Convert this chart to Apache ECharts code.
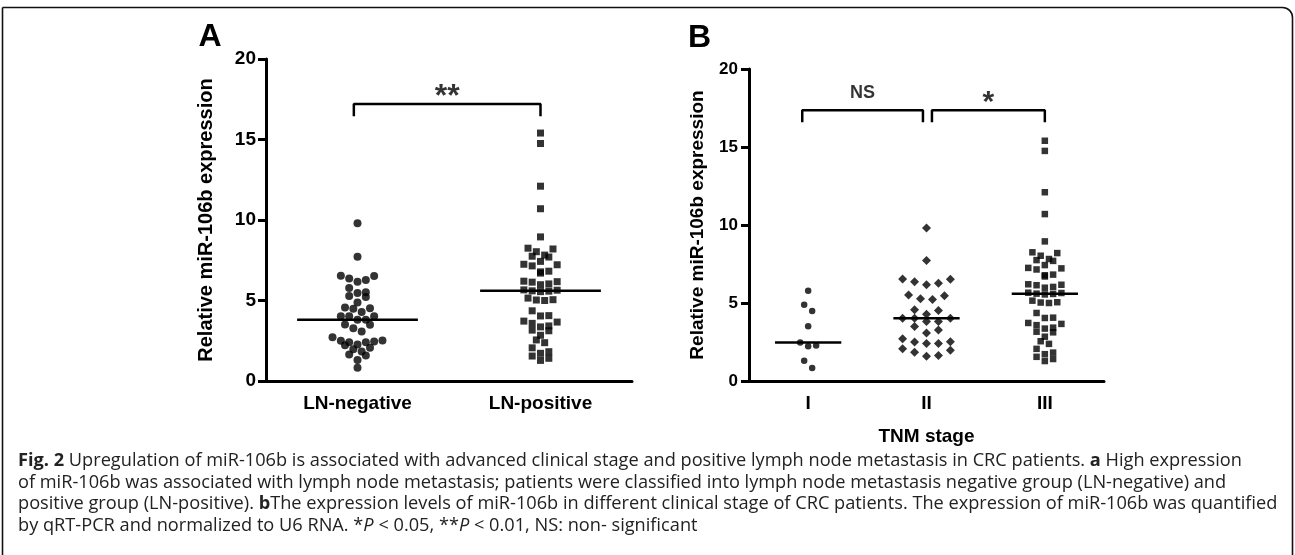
<!DOCTYPE html>
<html><head><meta charset="utf-8">
<script src="https://cdn.jsdelivr.net/npm/echarts@6/dist/echarts.min.js"></script>
<style>html,body{margin:0;padding:0;background:#fff}#c{width:1295px;height:555px}</style>
</head><body><div id="c"></div>
<script>
// ---------------- data ----------------
const categoriesA = ['LN-negative', 'LN-positive'];
const categoriesB = ['I', 'II', 'III'];
const yTicks = [0, 5, 10, 15, 20];
const stageI = [5.78, 4.88, 4.49, 3.51, 2.46, 2.27, 2.22, 1.30, 0.83];
const stageII = [9.80, 7.72, 6.54, 6.52, 6.36, 6.27, 6.17, 5.52, 5.46, 5.28, 5.22,
  4.56, 4.52, 4.28, 4.02, 4.02, 4.02, 3.81, 3.81, 3.49, 3.27, 3.07, 2.71,
  2.52, 2.50, 2.40, 2.40, 2.06, 1.97, 1.84, 1.64, 1.58];
const lnPositive = [15.4, 14.75, 12.1, 10.7, 8.95, 8.25, 8.03, 8.2, 7.75, 7.82, 7.7,
  7.25, 7.22, 7.43, 7.15, 6.78, 6.7, 6.82, 6.2, 6.17, 6.14, 5.98, 6.03,
  5.64, 5.58, 5.6, 5.55, 5.66, 5.05, 5.03, 5.0, 5.15, 4.36, 4.04, 4.06,
  3.66, 3.72, 3.58, 3.42, 3.16, 3.12, 3.36, 2.84, 2.55, 2.38, 2.06,
  1.72, 1.82, 1.55, 1.41, 1.28];
const lnNegative = stageI.concat(stageII);   // stage I + II patients are LN-negative
const stageIII = lnPositive;                 // stage III patients are LN-positive
const sigA = ['**'];
const sigB = ['NS', '*'];
const captionLines = [
  '{b|Fig. 2} Upregulation of miR-106b is associated with advanced clinical stage and positive lymph node metastasis in CRC patients. {b|a} High expression',
  'of miR-106b was associated with lymph node metastasis; patients were classified into lymph node metastasis negative group (LN-negative) and',
  'positive group (LN-positive). {b|b}The expression levels of miR-106b in different clinical stage of CRC patients. The expression of miR-106b was quantified',
  'by qRT-PCR and normalized to U6 RNA. *{i|P} < 0.05, **{i|P} < 0.01, NS: non- significant'
];

// ---------------- helpers ----------------
function median(a) {
  const s = a.slice().sort((x, y) => x - y), n = s.length;
  return n % 2 ? s[(n - 1) / 2] : (s[n / 2 - 1] + s[n / 2]) / 2;
}
// Prism-like scatter-dot layout: group values into rows, spread each row around the category centre
function swarm(values, center, step, binH) {
  const sorted = values.slice().sort((a, b) => b - a);
  const rows = []; let cur = null;
  sorted.forEach(v => {
    if (!cur || v < cur.top - binH) { cur = { top: v, vals: [] }; rows.push(cur); }
    cur.vals.push(v);
  });
  const pts = [];
  rows.forEach(r => {
    const vals = r.vals.slice().sort((a, b) => a - b), n = vals.length;
    vals.forEach((v, i) => {
      let k;
      if (n % 2 === 1) k = i === 0 ? 0 : (i % 2 === 1 ? Math.ceil(i / 2) : -Math.ceil(i / 2));
      else { const m = Math.floor(i / 2) + 0.5; k = i % 2 === 0 ? m : -m; }
      pts.push([center + k * step, v]);
    });
  });
  return pts;
}

const FONT = 'Liberation Sans';
const black = '#000';

function catAxis(grid, data, fs, extra) {
  return Object.assign({
    gridIndex: grid, type: 'category', data: data,
    axisLine: { lineStyle: { color: black, width: 3 } },
    axisTick: { alignWithLabel: true, length: 8, lineStyle: { color: black, width: 3 } },
    axisLabel: { color: black, fontFamily: FONT, fontWeight: 'bold', fontSize: fs, margin: 13 },
    splitLine: { show: false }
  }, extra || {});
}
function valAxis(grid, fs, nameFs, gap, margin) {
  return {
    gridIndex: grid, type: 'value', min: yTicks[0], max: yTicks[yTicks.length - 1], interval: yTicks[1] - yTicks[0],
    name: 'Relative miR-106b expression', nameLocation: 'middle', nameGap: gap,
    nameTextStyle: { color: black, fontFamily: FONT, fontWeight: 'bold', fontSize: nameFs },
    axisLine: { show: true, onZero: false, lineStyle: { color: black, width: 3 } },
    axisTick: { show: true, length: 8, lineStyle: { color: black, width: 3 } },
    axisLabel: { color: black, fontFamily: FONT, fontWeight: 'bold', fontSize: fs, margin: margin },
    splitLine: { show: false }
  };
}

const series = [];
function dots(xi, yi, values, center, symbol, size, step, binH) {
  series.push({ type: 'scatter', xAxisIndex: xi, yAxisIndex: yi, symbol: symbol, symbolSize: size,
    itemStyle: { color: black }, data: swarm(values, center, step, binH), z: 3 });
}
function medLine(xi, yi, values, center, half) {
  const m = median(values);
  series.push({ type: 'line', xAxisIndex: xi, yAxisIndex: yi, symbol: 'none', z: 4,
    lineStyle: { color: black, width: 2.5 }, data: [[center - half, m], [center + half, m]] });
}
function bracket(xi, yi, c1, c2, top, leg, text, labelY, fs, dy) {
  series.push({ type: 'line', xAxisIndex: xi, yAxisIndex: yi, symbol: 'none',
    lineStyle: { color: black, width: 2.5 },
    data: [[c1, leg], [c1, top], [c2, top], [c2, leg]] });
  series.push({ type: 'scatter', xAxisIndex: xi, yAxisIndex: yi, symbolSize: 1,
    itemStyle: { color: 'rgba(0,0,0,0)' }, silent: true,
    label: { show: true, position: 'inside', formatter: text, color: black, fontFamily: FONT,
      fontWeight: 'bold', fontSize: fs, offset: [0, dy] },
    data: [[(c1 + c2) / 2, labelY]] });
}

// Panel A
dots(1, 0, lnNegative, 0, 'circle', 8, 0.0455, 0.47);
dots(1, 0, lnPositive, 1, 'rect', 7, 0.0455, 0.47);
medLine(1, 0, lnNegative, 0, 0.33);
medLine(1, 0, lnPositive, 1, 0.33);
bracket(1, 0, -0.02, 1, 17.2, 16.45, sigA[0], 18.2, 32, 9);
// Panel B
dots(3, 1, stageI, 0, 'circle', 6.5, 0.0675, 0.48);
dots(3, 1, stageII, 1, 'diamond', 9, 0.101, 0.5);
dots(3, 1, stageIII, 2, 'rect', 6.5, 0.07, 0.48);
medLine(3, 1, stageI, 0, 0.28);
medLine(3, 1, stageII, 1, 0.28);
medLine(3, 1, stageIII, 2, 0.28);
bracket(3, 1, -0.05, 0.97, 17.35, 16.58, sigB[0], 18.44, 18, 0);
bracket(3, 1, 1.046, 2.0, 17.35, 16.58, sigB[1], 18.36, 30, 8);

const graphics = [
  { type: 'rect', shape: { x: 2.5, y: 7.5, width: 1290, height: 700, r: [0, 10, 0, 0] },
    style: { fill: 'none', stroke: '#111', lineWidth: 1.6 }, silent: true },
  { type: 'text', x: 210, y: 37, style: { text: 'A', fontFamily: FONT, fontWeight: 'bold', fontSize: 32,
    fill: black, align: 'center', verticalAlign: 'middle' } },
  { type: 'text', x: 699.5, y: 38, style: { text: 'B', fontFamily: FONT, fontWeight: 'bold', fontSize: 32,
    fill: black, align: 'center', verticalAlign: 'middle' } }
];
const capY = [461, 482.5, 504, 525.5];
const CAPFS = 18.2;
captionLines.forEach((t, i) => {
  graphics.push({ type: 'text', x: 18, y: capY[i], style: {
    text: t, fontFamily: 'Open Sans', fontSize: CAPFS, fill: '#222', align: 'left', verticalAlign: 'middle',
    rich: {
      b: { fontFamily: 'Open Sans', fontSize: CAPFS, fontWeight: 'bold', fill: '#222' },
      i: { fontFamily: 'Open Sans', fontSize: CAPFS, fontStyle: 'italic', fill: '#222' }
    } } });
});

const chart = echarts.init(document.getElementById('c'), null, { renderer: 'canvas' });
chart.setOption({
  animation: false,
  backgroundColor: '#fff',
  grid: [
    { left: 266, top: 59, width: 366, height: 322 },
    { left: 749, top: 69, width: 355, height: 312 }
  ],
  xAxis: [
    catAxis(0, categoriesA, 19),
    { gridIndex: 0, type: 'value', min: -0.5, max: categoriesA.length - 0.5, show: false },
    catAxis(1, categoriesB, 19, { name: 'TNM stage', nameLocation: 'middle', nameGap: 46,
      nameTextStyle: { color: black, fontFamily: FONT, fontWeight: 'bold', fontSize: 19 } }),
    { gridIndex: 1, type: 'value', min: -0.5, max: categoriesB.length - 0.5, show: false }
  ],
  yAxis: [valAxis(0, 19, 20, 50, 10), valAxis(1, 17, 19, 42, 11)],
  series: series,
  graphic: graphics
});
</script></body></html>
